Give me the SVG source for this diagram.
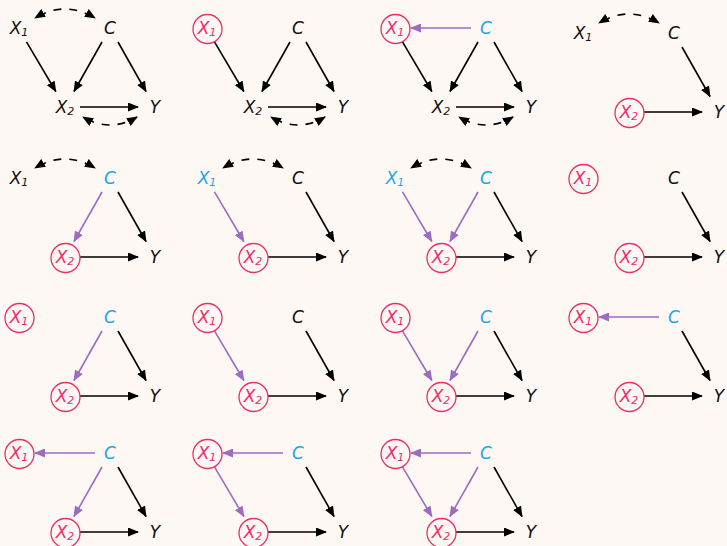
<svg xmlns="http://www.w3.org/2000/svg" width="727" height="546" viewBox="0 0 727 546">
<style>
.t{font-family:"DejaVu Sans","Liberation Sans",sans-serif;font-style:italic;font-size:17px;text-anchor:middle;fill:#111}
.s{font-size:11px}
.b{fill:#1ea7e4}
.k{fill:#ec2d6c}
.ring{fill:none;stroke:#ec2d6c;stroke-width:1.3}
.e{fill:none;stroke:#000;stroke-width:1.6;marker-end:url(#ab)}
.p{stroke:#9b6cc0;marker-end:url(#ap)}
.d{stroke-dasharray:8 8;stroke-dashoffset:-4;marker-start:url(#ab)}
</style>
<defs>
<marker id="ab" viewBox="0 0 11 9" refX="10" refY="4.5" markerWidth="11" markerHeight="9" markerUnits="userSpaceOnUse" orient="auto-start-reverse"><path d="M0,0L11,4.5L0,9z" fill="#000"/></marker>
<marker id="ap" viewBox="0 0 11 9" refX="10" refY="4.5" markerWidth="11" markerHeight="9" markerUnits="userSpaceOnUse" orient="auto-start-reverse"><path d="M0,0L11,4.5L0,9z" fill="#9b6cc0"/></marker>
</defs>
<rect width="727" height="546" fill="#fdf8f4"/>

<!-- Row 0 -->
<g id="p1" transform="translate(0,0)">
<g id="p1-edges">
<path class="e d" d="M35,18 Q65,0 95,18"/>
<path class="e" d="M26.5,41.8 L55.8,91.5"/>
<path class="e" d="M102,42 L74,91.5"/>
<path class="e" d="M118,42 L146,91.5"/>
<path class="e" d="M80,107 L138,107"/>
<path class="e d" d="M83,117 Q110,133 137,117"/>
</g>
<g id="p1-X1"><text class="t" x="19" y="34">X<tspan class="s" dy="2">1</tspan></text></g>
<g id="p1-C"><text class="t" x="110" y="34">C</text></g>
<g id="p1-X2"><text class="t" x="65" y="113">X<tspan class="s" dy="2">2</tspan></text></g>
<g id="p1-Y"><text class="t" x="155" y="113">Y</text></g>
</g>

<g id="p2" transform="translate(188,0)">
<g id="p2-edges">
<path class="e" d="M26.5,41.8 L55.8,91.5"/>
<path class="e" d="M102,42 L74,91.5"/>
<path class="e" d="M118,42 L146,91.5"/>
<path class="e" d="M80,107 L138,107"/>
<path class="e d" d="M83,117 Q110,133 137,117"/>
</g>
<g id="p2-X1"><circle class="ring" cx="19.5" cy="29" r="14.5"/><text class="t k" x="19" y="34">X<tspan class="s" dy="2">1</tspan></text></g>
<g id="p2-C"><text class="t" x="110" y="34">C</text></g>
<g id="p2-X2"><text class="t" x="65" y="113">X<tspan class="s" dy="2">2</tspan></text></g>
<g id="p2-Y"><text class="t" x="155" y="113">Y</text></g>
</g>

<g id="p3" transform="translate(376,0)">
<g id="p3-edges">
<path class="e p" d="M95,28 L35,28"/>
<path class="e" d="M26.5,41.8 L55.8,91.5"/>
<path class="e" d="M102,42 L74,91.5"/>
<path class="e" d="M118,42 L146,91.5"/>
<path class="e" d="M80,107 L138,107"/>
<path class="e d" d="M83,117 Q110,133 137,117"/>
</g>
<g id="p3-X1"><circle class="ring" cx="19.5" cy="29" r="14.5"/><text class="t k" x="19" y="34">X<tspan class="s" dy="2">1</tspan></text></g>
<g id="p3-C"><text class="t b" x="110" y="34">C</text></g>
<g id="p3-X2"><text class="t" x="65" y="113">X<tspan class="s" dy="2">2</tspan></text></g>
<g id="p3-Y"><text class="t" x="155" y="113">Y</text></g>
</g>

<g id="p4" transform="translate(564,5)">
<g id="p4-edges">
<path class="e d" d="M35,18 Q65,0 95,18"/>
<path class="e" d="M118,42 L146,91.5"/>
<path class="e" d="M80,107 L138,107"/>
</g>
<g id="p4-X1"><text class="t" x="19" y="34">X<tspan class="s" dy="2">1</tspan></text></g>
<g id="p4-C"><text class="t" x="110" y="34">C</text></g>
<g id="p4-X2"><circle class="ring" cx="65.5" cy="108" r="14.5"/><text class="t k" x="65" y="113">X<tspan class="s" dy="2">2</tspan></text></g>
<g id="p4-Y"><text class="t" x="155" y="113">Y</text></g>
</g>

<!-- Row 1 -->
<g id="p5" transform="translate(0,150)">
<g id="p5-edges">
<path class="e d" d="M35,18 Q65,0 95,18"/>
<path class="e p" d="M102,42 L74,91.5"/>
<path class="e" d="M118,42 L146,91.5"/>
<path class="e" d="M80,107 L138,107"/>
</g>
<g id="p5-X1"><text class="t" x="19" y="34">X<tspan class="s" dy="2">1</tspan></text></g>
<g id="p5-C"><text class="t b" x="110" y="34">C</text></g>
<g id="p5-X2"><circle class="ring" cx="65.5" cy="108" r="14.5"/><text class="t k" x="65" y="113">X<tspan class="s" dy="2">2</tspan></text></g>
<g id="p5-Y"><text class="t" x="155" y="113">Y</text></g>
</g>

<g id="p6" transform="translate(188,150)">
<g id="p6-edges">
<path class="e d" d="M35,18 Q65,0 95,18"/>
<path class="e p" d="M26.5,41.8 L55.8,91.5"/>
<path class="e" d="M118,42 L146,91.5"/>
<path class="e" d="M80,107 L138,107"/>
</g>
<g id="p6-X1"><text class="t b" x="19" y="34">X<tspan class="s" dy="2">1</tspan></text></g>
<g id="p6-C"><text class="t" x="110" y="34">C</text></g>
<g id="p6-X2"><circle class="ring" cx="65.5" cy="108" r="14.5"/><text class="t k" x="65" y="113">X<tspan class="s" dy="2">2</tspan></text></g>
<g id="p6-Y"><text class="t" x="155" y="113">Y</text></g>
</g>

<g id="p7" transform="translate(376,150)">
<g id="p7-edges">
<path class="e d" d="M35,18 Q65,0 95,18"/>
<path class="e p" d="M26.5,41.8 L55.8,91.5"/>
<path class="e p" d="M102,42 L74,91.5"/>
<path class="e" d="M118,42 L146,91.5"/>
<path class="e" d="M80,107 L138,107"/>
</g>
<g id="p7-X1"><text class="t b" x="19" y="34">X<tspan class="s" dy="2">1</tspan></text></g>
<g id="p7-C"><text class="t b" x="110" y="34">C</text></g>
<g id="p7-X2"><circle class="ring" cx="65.5" cy="108" r="14.5"/><text class="t k" x="65" y="113">X<tspan class="s" dy="2">2</tspan></text></g>
<g id="p7-Y"><text class="t" x="155" y="113">Y</text></g>
</g>

<g id="p8" transform="translate(564,150)">
<g id="p8-edges">
<path class="e" d="M118,42 L146,91.5"/>
<path class="e" d="M80,107 L138,107"/>
</g>
<g id="p8-X1"><circle class="ring" cx="19.5" cy="29" r="14.5"/><text class="t k" x="19" y="34">X<tspan class="s" dy="2">1</tspan></text></g>
<g id="p8-C"><text class="t" x="110" y="34">C</text></g>
<g id="p8-X2"><circle class="ring" cx="65.5" cy="108" r="14.5"/><text class="t k" x="65" y="113">X<tspan class="s" dy="2">2</tspan></text></g>
<g id="p8-Y"><text class="t" x="155" y="113">Y</text></g>
</g>

<!-- Row 2 -->
<g id="p9" transform="translate(0,289)">
<g id="p9-edges">
<path class="e p" d="M102,42 L74,91.5"/>
<path class="e" d="M118,42 L146,91.5"/>
<path class="e" d="M80,107 L138,107"/>
</g>
<g id="p9-X1"><circle class="ring" cx="19.5" cy="29" r="14.5"/><text class="t k" x="19" y="34">X<tspan class="s" dy="2">1</tspan></text></g>
<g id="p9-C"><text class="t b" x="110" y="34">C</text></g>
<g id="p9-X2"><circle class="ring" cx="65.5" cy="108" r="14.5"/><text class="t k" x="65" y="113">X<tspan class="s" dy="2">2</tspan></text></g>
<g id="p9-Y"><text class="t" x="155" y="113">Y</text></g>
</g>

<g id="p10" transform="translate(188,289)">
<g id="p10-edges">
<path class="e p" d="M26.5,41.8 L55.8,91.5"/>
<path class="e" d="M118,42 L146,91.5"/>
<path class="e" d="M80,107 L138,107"/>
</g>
<g id="p10-X1"><circle class="ring" cx="19.5" cy="29" r="14.5"/><text class="t k" x="19" y="34">X<tspan class="s" dy="2">1</tspan></text></g>
<g id="p10-C"><text class="t" x="110" y="34">C</text></g>
<g id="p10-X2"><circle class="ring" cx="65.5" cy="108" r="14.5"/><text class="t k" x="65" y="113">X<tspan class="s" dy="2">2</tspan></text></g>
<g id="p10-Y"><text class="t" x="155" y="113">Y</text></g>
</g>

<g id="p11" transform="translate(376,289)">
<g id="p11-edges">
<path class="e p" d="M26.5,41.8 L55.8,91.5"/>
<path class="e p" d="M102,42 L74,91.5"/>
<path class="e" d="M118,42 L146,91.5"/>
<path class="e" d="M80,107 L138,107"/>
</g>
<g id="p11-X1"><circle class="ring" cx="19.5" cy="29" r="14.5"/><text class="t k" x="19" y="34">X<tspan class="s" dy="2">1</tspan></text></g>
<g id="p11-C"><text class="t b" x="110" y="34">C</text></g>
<g id="p11-X2"><circle class="ring" cx="65.5" cy="108" r="14.5"/><text class="t k" x="65" y="113">X<tspan class="s" dy="2">2</tspan></text></g>
<g id="p11-Y"><text class="t" x="155" y="113">Y</text></g>
</g>

<g id="p12" transform="translate(564,289)">
<g id="p12-edges">
<path class="e p" d="M95,28 L35,28"/>
<path class="e" d="M118,42 L146,91.5"/>
<path class="e" d="M80,107 L138,107"/>
</g>
<g id="p12-X1"><circle class="ring" cx="19.5" cy="29" r="14.5"/><text class="t k" x="19" y="34">X<tspan class="s" dy="2">1</tspan></text></g>
<g id="p12-C"><text class="t b" x="110" y="34">C</text></g>
<g id="p12-X2"><circle class="ring" cx="65.5" cy="108" r="14.5"/><text class="t k" x="65" y="113">X<tspan class="s" dy="2">2</tspan></text></g>
<g id="p12-Y"><text class="t" x="155" y="113">Y</text></g>
</g>

<!-- Row 3 -->
<g id="p13" transform="translate(0,425)">
<g id="p13-edges">
<path class="e p" d="M95,28 L35,28"/>
<path class="e p" d="M102,42 L74,91.5"/>
<path class="e" d="M118,42 L146,91.5"/>
<path class="e" d="M80,107 L138,107"/>
</g>
<g id="p13-X1"><circle class="ring" cx="19.5" cy="29" r="14.5"/><text class="t k" x="19" y="34">X<tspan class="s" dy="2">1</tspan></text></g>
<g id="p13-C"><text class="t b" x="110" y="34">C</text></g>
<g id="p13-X2"><circle class="ring" cx="65.5" cy="108" r="14.5"/><text class="t k" x="65" y="113">X<tspan class="s" dy="2">2</tspan></text></g>
<g id="p13-Y"><text class="t" x="155" y="113">Y</text></g>
</g>

<g id="p14" transform="translate(188,425)">
<g id="p14-edges">
<path class="e p" d="M95,28 L35,28"/>
<path class="e p" d="M26.5,41.8 L55.8,91.5"/>
<path class="e" d="M118,42 L146,91.5"/>
<path class="e" d="M80,107 L138,107"/>
</g>
<g id="p14-X1"><circle class="ring" cx="19.5" cy="29" r="14.5"/><text class="t k" x="19" y="34">X<tspan class="s" dy="2">1</tspan></text></g>
<g id="p14-C"><text class="t b" x="110" y="34">C</text></g>
<g id="p14-X2"><circle class="ring" cx="65.5" cy="108" r="14.5"/><text class="t k" x="65" y="113">X<tspan class="s" dy="2">2</tspan></text></g>
<g id="p14-Y"><text class="t" x="155" y="113">Y</text></g>
</g>

<g id="p15" transform="translate(376,425)">
<g id="p15-edges">
<path class="e p" d="M95,28 L35,28"/>
<path class="e p" d="M26.5,41.8 L55.8,91.5"/>
<path class="e p" d="M102,42 L74,91.5"/>
<path class="e" d="M118,42 L146,91.5"/>
<path class="e" d="M80,107 L138,107"/>
</g>
<g id="p15-X1"><circle class="ring" cx="19.5" cy="29" r="14.5"/><text class="t k" x="19" y="34">X<tspan class="s" dy="2">1</tspan></text></g>
<g id="p15-C"><text class="t b" x="110" y="34">C</text></g>
<g id="p15-X2"><circle class="ring" cx="65.5" cy="108" r="14.5"/><text class="t k" x="65" y="113">X<tspan class="s" dy="2">2</tspan></text></g>
<g id="p15-Y"><text class="t" x="155" y="113">Y</text></g>
</g>
</svg>
